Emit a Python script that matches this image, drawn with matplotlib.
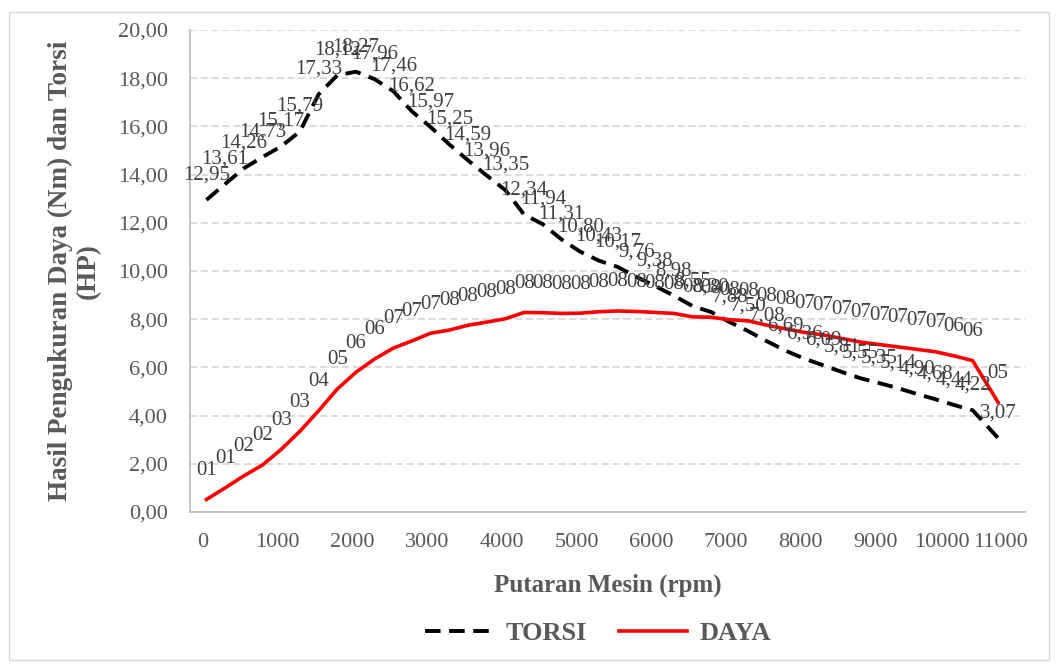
import matplotlib
matplotlib.use("Agg")
import matplotlib.pyplot as plt
import matplotlib.transforms as mtransforms
from matplotlib.ticker import FuncFormatter
from matplotlib.patches import Rectangle

# data
rpm = [50, 300, 550, 800, 1050, 1300, 1550, 1800, 2050, 2300, 2550, 2800,
       3050, 3300, 3550, 3800, 4050, 4300, 4550, 4800, 5050, 5300, 5550,
       5800, 6050, 6300, 6550, 6800, 7050, 7300, 7550, 7800, 8050, 8300,
       8550, 8800, 9050, 9300, 9550, 9800, 10050, 10300, 10640]
torsi = [12.95, 13.61, 14.26, 14.73, 15.17, 15.79, 17.33, 18.12, 18.27, 17.96,
         17.46, 16.62, 15.97, 15.25, 14.59, 13.96, 13.35, 12.34, 11.94, 11.31,
         10.80, 10.43, 10.17, 9.76, 9.38, 8.98, 8.55, 8.30, 7.88, 7.50, 7.08,
         6.69, 6.36, 6.09, 5.81, 5.55, 5.35, 5.14, 4.90, 4.68, 4.44, 4.22, 3.07]
daya = [0.52, 1.00, 1.50, 1.95, 2.60, 3.35, 4.20, 5.10, 5.80, 6.35, 6.80, 7.10,
        7.42, 7.55, 7.75, 7.88, 8.02, 8.28, 8.27, 8.24, 8.25, 8.31, 8.34, 8.32,
        8.28, 8.24, 8.10, 8.08, 7.98, 7.93, 7.75, 7.60, 7.45, 7.35, 7.20, 7.05,
        6.95, 6.85, 6.75, 6.65, 6.48, 6.28, 4.55]
xticks = list(range(0, 12000, 1000))

grey = "#595959"
serif = ["Liberation Serif", "DejaVu Serif"]
plt.rcParams["font.family"] = serif

fig = plt.figure(figsize=(10.61, 6.67), dpi=100)
ax = fig.add_axes([190 / 1061, 1 - 512 / 667, 835 / 1061, 482 / 667])

ax.plot(rpm, torsi, color="black", lw=2.8, dashes=(4, 2.2), label="TORSI")
ax.plot(rpm, daya, color="#ff0000", lw=2.6, label="DAYA")

for x, y in zip(rpm, torsi):
    ax.annotate(f"{y:.2f}".replace(".", ","), (x, y), xytext=(0, 18),
                textcoords="offset points", ha="center", va="center",
                fontsize=15, color="#404040")
for x, y in zip(rpm, daya):
    ax.annotate(f"{y:02.0f}", (x, y), xytext=(0, 21),
                textcoords="offset points", ha="center", va="center",
                fontsize=15, color="#404040")

ax.set_xlim(-170, 11000)
ax.set_ylim(0, 20)
ax.set_yticks(range(0, 21, 2))
ax.set_xticks(xticks)
ax.yaxis.set_major_formatter(FuncFormatter(lambda v, p: f"{v:.2f}".replace(".", ",")))
ax.tick_params(axis="both", length=0, labelsize=16, colors=grey)
ax.tick_params(axis="y", pad=16)
ax.tick_params(axis="x", pad=15)
# last two labels squeezed inward like the original
xl = ax.get_xticklabels()
for lbl, dx in [(xl[-2], -0.08), (xl[-1], -0.25)]:
    lbl.set_transform(lbl.get_transform() + mtransforms.ScaledTranslation(dx, 0, fig.dpi_scale_trans))

ax.grid(axis="y", color="#d9d9d9", ls=(0, (4, 2)), lw=1.3)
for s in ["top", "right"]:
    ax.spines[s].set_visible(False)
for s in ["left", "bottom"]:
    ax.spines[s].set_color("#bfbfbf")
    ax.spines[s].set_linewidth(1.3)

ax.set_xlabel("Putaran Mesin (rpm)", fontsize=18, fontweight="bold", color=grey, labelpad=16)
ax.set_ylabel("Hasil Pengukuran Daya (Nm) dan Torsi\n(HP)", fontsize=19.5,
              fontweight="bold", color=grey, labelpad=12, linespacing=1.15)

leg = fig.legend(loc="center", bbox_to_anchor=(598 / 1061, 1 - 633 / 667), ncol=2,
                 frameon=False, handlelength=2.6, handletextpad=0.45, columnspacing=1.2,
                 prop={"family": serif, "weight": "bold", "size": 19})
for t in leg.get_texts():
    t.set_color(grey)

fig.patches.append(Rectangle((9 / 1061, 7 / 667), 1040 / 1061, 648 / 667,
                             transform=fig.transFigure, fill=False,
                             edgecolor="#d9d9d9", lw=1))

fig.savefig("out.png", dpi=100)
